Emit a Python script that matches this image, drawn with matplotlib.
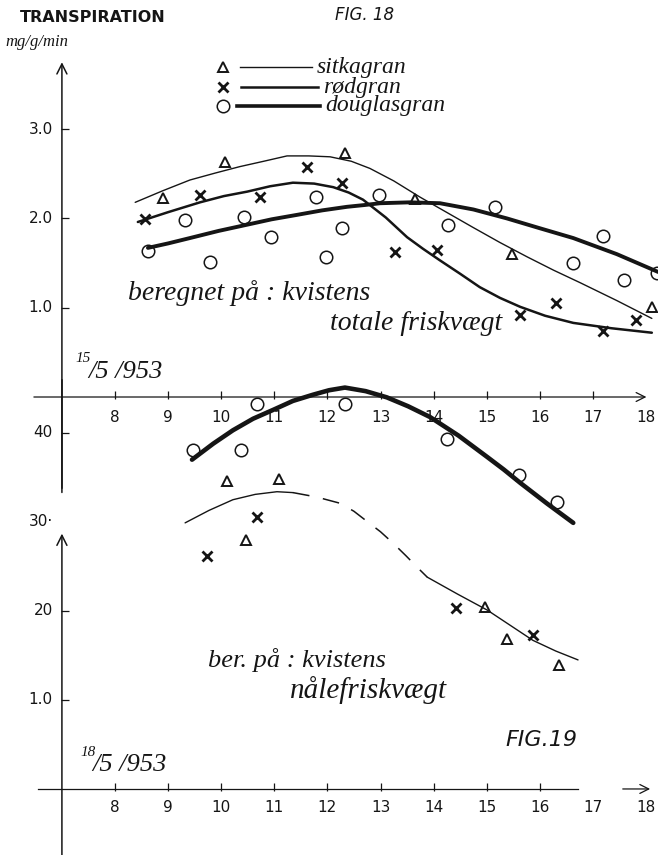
import matplotlib
matplotlib.use("Agg")
import matplotlib.pyplot as plt
from matplotlib.lines import Line2D

W, H = 658, 855
ink = "#151515"

# FIG. 18, 15/5 1953 -- transpirasjon mg/g/min, kvistens totale friskvægt
sitka18_pts_x = [8.90, 10.07, 12.33, 13.65, 15.48, 18.11]
sitka18_pts_y = [2.23, 2.63, 2.73, 2.22, 1.60, 1.01]
rod18_pts_x = [8.56, 9.60, 10.73, 11.62, 12.27, 13.27, 14.06, 15.63, 16.31, 17.19, 17.81]
rod18_pts_y = [1.99, 2.26, 2.24, 2.58, 2.40, 1.62, 1.65, 0.92, 1.05, 0.74, 0.86]
doug18_pts_x = [8.62, 9.32, 9.79, 10.43, 10.94, 11.79, 11.97, 12.27, 12.97, 14.27,
                15.16, 16.63, 17.19, 17.59, 18.21]
doug18_pts_y = [1.63, 1.98, 1.51, 2.02, 1.79, 2.24, 1.57, 1.89, 2.26, 1.93,
                2.13, 1.50, 1.80, 1.31, 1.39]

sitka18_curve_x = [8.38, 8.90, 9.41, 9.90, 10.35, 10.80, 11.24, 11.65, 12.05, 12.45,
                   12.80, 13.25, 13.74, 14.24, 14.74, 15.25, 15.76, 16.26, 16.76, 17.45, 18.11]
sitka18_curve_y = [2.18, 2.31, 2.43, 2.51, 2.58, 2.64, 2.70, 2.70, 2.69, 2.64,
                   2.56, 2.42, 2.24, 2.07, 1.90, 1.73, 1.57, 1.42, 1.28, 1.08, 0.88]
rod18_curve_x = [8.43, 9.00, 9.60, 10.05, 10.49, 10.92, 11.35, 11.75, 12.11, 12.40,
                 12.67, 13.10, 13.50, 13.80, 14.12, 14.50, 14.87, 15.25, 15.63, 16.10,
                 16.63, 17.35, 18.11]
rod18_curve_y = [1.96, 2.07, 2.18, 2.25, 2.30, 2.36, 2.40, 2.39, 2.35, 2.29,
                 2.21, 2.01, 1.79, 1.66, 1.53, 1.38, 1.23, 1.11, 1.01, 0.91,
                 0.83, 0.77, 0.72]
doug18_curve_x = [8.62, 9.00, 9.41, 9.95, 10.49, 10.95, 11.43, 11.90, 12.37, 12.70,
                  12.99, 13.55, 14.12, 14.75, 15.38, 16.00, 16.63, 17.45, 18.23]
doug18_curve_y = [1.67, 1.72, 1.78, 1.86, 1.93, 1.99, 2.04, 2.09, 2.13, 2.15,
                  2.17, 2.18, 2.17, 2.10, 2.00, 1.89, 1.78, 1.60, 1.40]

# FIG. 19, 18/5 1953 -- kvistens nålefriskvægt
sitka19_pts_x = [10.11, 11.09, 10.47, 14.97, 15.38, 16.36]
sitka19_pts_y = [3.46, 3.48, 2.80, 2.04, 1.69, 1.39]
rod19_pts_x = [9.73, 10.67, 14.42, 15.87]
rod19_pts_y = [2.62, 3.06, 2.03, 1.73]
doug19_pts_x = [9.47, 10.37, 10.67, 12.33, 14.25, 15.61, 16.32]
doug19_pts_y = [3.81, 3.81, 4.33, 4.33, 3.93, 3.53, 3.22]

doug19_curve_x = [9.45, 9.85, 10.22, 10.60, 10.98, 11.35, 11.73, 12.03, 12.33, 12.72,
                  13.12, 13.52, 13.93, 14.47, 15.01, 15.32, 15.63, 16.13, 16.63]
doug19_curve_y = [3.70, 3.88, 4.03, 4.16, 4.26, 4.36, 4.43, 4.48, 4.51, 4.47,
                  4.40, 4.30, 4.18, 3.97, 3.73, 3.59, 3.44, 3.21, 2.99]
sitka19_a_x = [9.32, 9.77, 10.22, 10.64, 11.05, 11.35]
sitka19_a_y = [2.99, 3.13, 3.25, 3.31, 3.34, 3.33]
sitka19_dash_x = [11.35, 11.80, 12.24, 12.50, 12.76, 13.00, 13.24, 13.48, 13.71, 13.88]
sitka19_dash_y = [3.33, 3.28, 3.21, 3.12, 3.00, 2.89, 2.76, 2.62, 2.48, 2.38]
sitka19_b_x = [13.88, 14.45, 15.01, 15.44, 15.87, 16.30, 16.72]
sitka19_b_y = [2.38, 2.19, 2.01, 1.84, 1.67, 1.55, 1.45]

hours = list(range(8, 19))
yticks18 = [1.0, 2.0, 3.0]
ylabels18 = ["1.0", "2.0", "3.0"]
yticks19 = [1.0, 2.0, 3.0, 4.0]
ylabels19 = ["1.0", "20", "30·", "40"]

hand = ["Liberation Serif", "DejaVu Serif"]


def fx(px):
    return px / W


def fy(py):
    return 1 - py / H


fig = plt.figure(figsize=(W / 100, H / 100), dpi=100)
fig.patch.set_facecolor("white")
ax18 = fig.add_axes([0, 0, 1, 1])
ax19 = fig.add_axes([0, 0, 1, 1])
for ax in (ax18, ax19):
    ax.set_xlim(5.834, 18.226)
    ax.axis("off")
ax18.set_ylim(-5.129, 4.446)
ax19.set_ylim(-0.742, 8.865)

tri = dict(marker="^", ms=6.5, mfc="none", mec=ink, mew=1.4, ls="none")
cross = dict(marker="x", ms=6.5, mec=ink, mew=2.0, ls="none")
circ = dict(marker="o", ms=9, mfc="none", mec=ink, mew=1.1, ls="none")
curve = dict(color=ink, solid_joinstyle="round", solid_capstyle="round")

# --- fig 18 axes
ax18.annotate("", xy=(18.06, 0), xytext=(6.42, 0),
              arrowprops=dict(arrowstyle="->", lw=0.9, color=ink, mutation_scale=16))
ax18.annotate("", xy=(7.0, 3.78), xytext=(7.0, -1.10),
              arrowprops=dict(arrowstyle="->", lw=1.1, color=ink, mutation_scale=18))
ax18.plot(hours[:-1], [0.02] * (len(hours) - 1), "|", ms=6, mew=0.9, color=ink)
ax18.plot([7.05] * len(yticks18), yticks18, "_", ms=6, mew=0.9, color=ink)
for h in hours:
    ax18.text(h, -0.235, str(h), ha="center", va="center", fontsize=11, color=ink)
for v, lab in zip(yticks18, ylabels18):
    ax18.text(6.83, v, lab, ha="right", va="center", fontsize=11, color=ink)

ax18.plot(sitka18_curve_x, sitka18_curve_y, lw=1.0, **curve)
ax18.plot(rod18_curve_x, rod18_curve_y, lw=1.8, **curve)
ax18.plot(doug18_curve_x, doug18_curve_y, lw=2.8, **curve)
ax18.plot(sitka18_pts_x, sitka18_pts_y, **tri)
ax18.plot(rod18_pts_x, rod18_pts_y, **cross)
ax18.plot(doug18_pts_x, doug18_pts_y, **circ)

# --- fig 19 axes
ax19.plot([6.55, 16.72], [0, 0], color=ink, lw=0.9)
ax19.annotate("", xy=(18.13, 0), xytext=(17.51, 0),
              arrowprops=dict(arrowstyle="->", lw=0.9, color=ink, mutation_scale=16))
ax19.annotate("", xy=(7.0, 2.90), xytext=(7.0, -0.8),
              arrowprops=dict(arrowstyle="->", lw=1.1, color=ink, mutation_scale=18))
ax19.plot([7.0, 7.0], [3.38, 4.6], color=ink, lw=1.1)
ax19.plot(hours[:9], [0.02] * 9, "|", ms=6, mew=0.9, color=ink)
ax19.plot([7.05, 7.05, 7.05], [1.0, 2.0, 4.0], "_", ms=6, mew=0.9, color=ink)
for h in hours:
    ax19.text(h, -0.21, str(h), ha="center", va="center", fontsize=11, color=ink)
for v, lab in zip(yticks19, ylabels19):
    ax19.text(6.83, v, lab, ha="right", va="center", fontsize=11, color=ink)

ax19.plot(doug19_curve_x, doug19_curve_y, lw=3.3, **curve)
ax19.plot(sitka19_a_x, sitka19_a_y, lw=1.0, **curve)
ax19.plot(sitka19_dash_x, sitka19_dash_y, color=ink, lw=1.1, ls=(0, (11, 9)))
ax19.plot(sitka19_b_x, sitka19_b_y, lw=1.0, **curve)
ax19.plot(sitka19_pts_x, sitka19_pts_y, **tri)
ax19.plot(rod19_pts_x, rod19_pts_y, **cross)
ax19.plot(doug19_pts_x, doug19_pts_y, **circ)

# --- legend (hand drawn key)
key = [("sitkagran", tri, 1.0, 240, 312, 67),
       ("rødgran", cross, 1.8, 241, 318, 87),
       ("douglasgran", circ, 2.6, 237, 320, 106)]
for name, mk, lw, x0, x1, py in key:
    fig.add_artist(Line2D([fx(223)], [fy(py)], transform=fig.transFigure, **mk))
    fig.add_artist(Line2D([fx(x0), fx(x1)], [fy(py), fy(py)], transform=fig.transFigure,
                          color=ink, lw=lw))
    fig.text(fx(x1 + 5), fy(py), name, ha="left", va="center", fontsize=17,
             style="italic", family=hand, color=ink)

# --- titles and notes
fig.text(fx(20), fy(17), "TRANSPIRATION", ha="left", va="center", fontsize=11.5,
         weight="bold", color=ink)
fig.text(fx(5), fy(42), "mg/g/min", ha="left", va="center", fontsize=12,
         style="italic", family=hand, color=ink)
fig.text(fx(335), fy(15), "FIG. 18", ha="left", va="center", fontsize=12,
         style="italic", color=ink)
fig.text(fx(128), fy(293), "beregnet på : kvistens", ha="left", va="center",
         fontsize=20, style="italic", family=hand, color=ink)
fig.text(fx(330), fy(323), "totale friskvægt", ha="left", va="center",
         fontsize=20, style="italic", family=hand, color=ink)
fig.text(fx(75), fy(358), "15", ha="left", va="center", fontsize=11,
         style="italic", family=hand, color=ink)
fig.text(fx(88), fy(372), "/5 /953", ha="left", va="center", fontsize=19,
         style="italic", family=hand, color=ink)

fig.text(fx(208), fy(660), "ber. på : kvistens", ha="left", va="center",
         fontsize=19, style="italic", family=hand, color=ink)
fig.text(fx(290), fy(690), "nålefriskvægt", ha="left", va="center",
         fontsize=21, style="italic", family=hand, color=ink)
fig.text(fx(80), fy(752), "18", ha="left", va="center", fontsize=11,
         style="italic", family=hand, color=ink)
fig.text(fx(92), fy(765), "/5 /953", ha="left", va="center", fontsize=19,
         style="italic", family=hand, color=ink)
fig.text(fx(505), fy(740), "FIG.19", ha="left", va="center", fontsize=16,
         style="italic", color=ink)

fig.savefig("out.png", dpi=100, facecolor="white")
